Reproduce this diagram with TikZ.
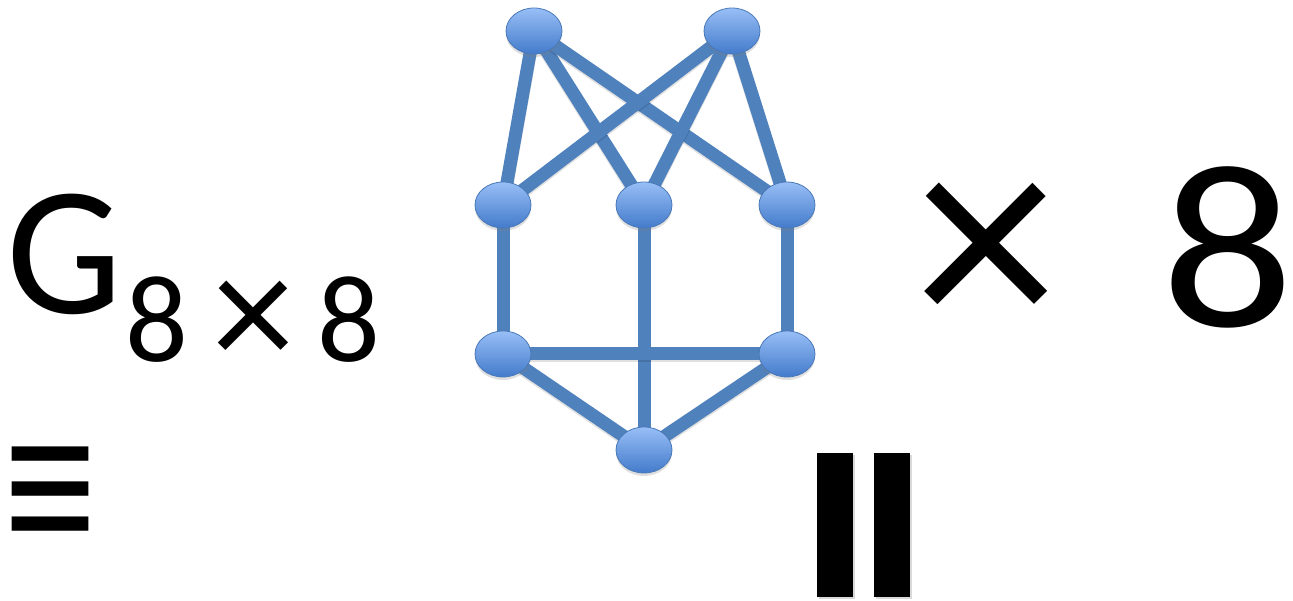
\documentclass[tikz,border=0pt]{standalone}
\usepackage{fontspec}
\setmainfont{Carlito}
\usetikzlibrary{shapes.geometric,shadows,backgrounds}
\definecolor{edgeblue}{HTML}{4F81BD}
\definecolor{nodetop}{HTML}{98BEF6}
\definecolor{nodebot}{HTML}{437BCB}
\definecolor{nodeline}{HTML}{4A79B8}
\tikzset{
  vert/.style={ellipse, minimum width=56pt, minimum height=46pt, inner sep=0pt,
    draw=nodeline, line width=0.8pt, top color=nodetop, bottom color=nodebot,
    drop shadow={opacity=0.25, shadow xshift=0pt, shadow yshift=-3pt}},
  edge/.style={draw=edgeblue, line width=13pt,
    preaction={draw=black, opacity=0.12, line width=13pt, transform canvas={yshift=-2pt}}},
  bigtxt/.style={inner sep=0pt, outer sep=0pt, text=black},
  bar/.style={fill=black, draw=none, minimum width=36pt, minimum height=144pt, inner sep=0pt,
    drop shadow={opacity=0.3, shadow xshift=2pt, shadow yshift=-2pt}}
}
\begin{document}
\begin{tikzpicture}[x=1pt,y=-1pt]
\useasboundingbox (0,0) rectangle (1293,601);
% text
\node[bigtxt, anchor=base west] (G) at (6,314) {\fontsize{184}{184}\selectfont G};
\node[bigtxt, anchor=base west] (subA) at (125,362) {\fontsize{124}{124}\selectfont 8};
\node[bigtxt] (subX) at (253.5,324) {\fontsize{165}{165}\selectfont ×};
\node[bigtxt, anchor=base west] (subB) at (317,362) {\fontsize{124}{124}\selectfont 8};
\node[bigtxt, yscale=1.17] (equiv) at (51,503) {\fontsize{189}{189}\selectfont ≡};
\node[bigtxt] (times) at (986,259) {\fontsize{289}{289}\selectfont ×};
\node[bigtxt, anchor=base west, xscale=1.12] (eight) at (1161,327) {\fontsize{234}{234}\selectfont 8};
% bars
\node[bar] (barL) at (835,525) {};
\node[bar] (barR) at (892,525) {};
% graph
\node[vert] (tl) at (534,31) {};
\node[vert] (tr) at (732,31) {};
\node[vert] (ml) at (503,205) {};
\node[vert] (mc) at (644,205) {};
\node[vert] (mr) at (787,205) {};
\node[vert] (bl) at (503,354) {};
\node[vert] (br) at (787,354) {};
\node[vert] (bm) at (644,450) {};
\begin{pgfonlayer}{background}
\draw[edge] (tl.center) -- (ml.center);
\draw[edge] (tl.center) -- (mc.center);
\draw[edge] (tl.center) -- (mr.center);
\draw[edge] (tr.center) -- (ml.center);
\draw[edge] (tr.center) -- (mc.center);
\draw[edge] (tr.center) -- (mr.center);
\draw[edge] (ml.center) -- (bl.center);
\draw[edge] (mr.center) -- (br.center);
\draw[edge] (mc.center) -- (bm.center);
\draw[edge] (bl.center) -- (br.center);
\draw[edge] (bl.center) -- (bm.center);
\draw[edge] (br.center) -- (bm.center);
\end{pgfonlayer}
\end{tikzpicture}
\end{document}
